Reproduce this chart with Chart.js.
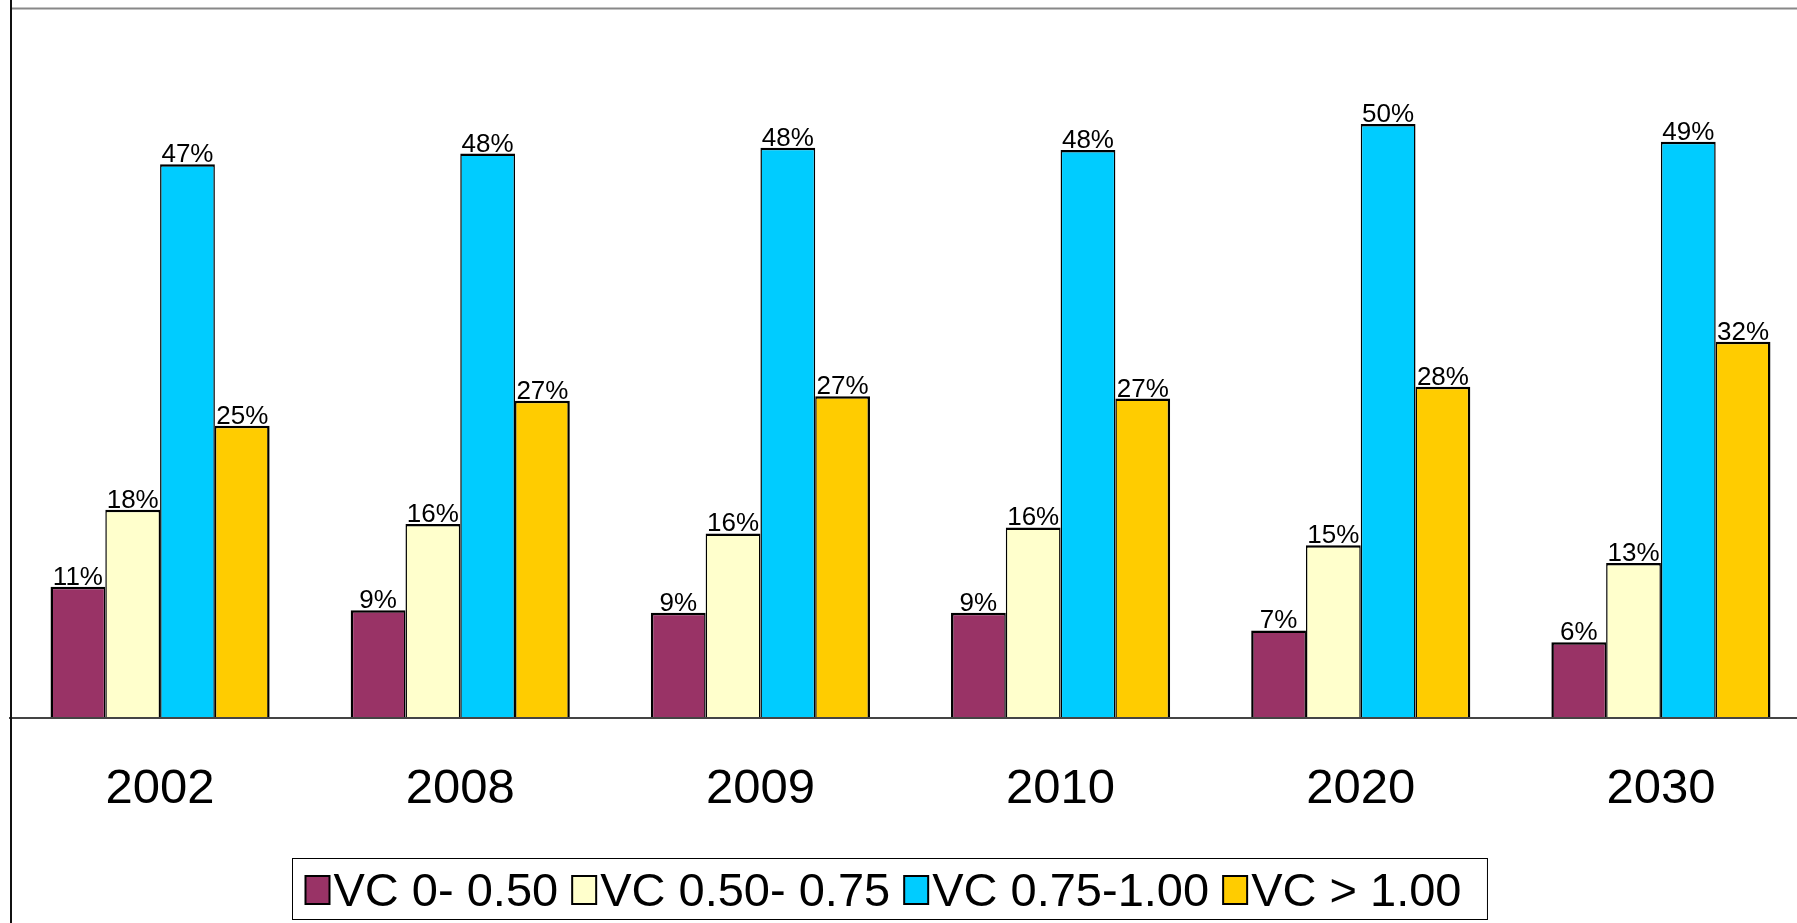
<!DOCTYPE html>
<html>
<head>
<meta charset="utf-8">
<title>VC by year</title>
<script src="https://cdn.jsdelivr.net/npm/chart.js@4.4.0/dist/chart.umd.min.js"></script>
<style>
    html, body { margin: 0; padding: 0; background: #fff; overflow: hidden; }
    #wrap { width: 1811px; height: 923px; }
</style>
</head>
<body>
<div id="wrap"><canvas id="myChart" width="1811" height="923"></canvas></div>
<script>
// data (percent)
const years = ['2002', '2008', '2009', '2010', '2020', '2030'];
const seriesNames = ['VC 0- 0.50', 'VC 0.50- 0.75', 'VC 0.75-1.00', 'VC > 1.00'];
const vcLow = [11.1, 9.1, 8.9, 8.9, 7.4, 6.4];
const vcMid = [17.6, 16.4, 15.6, 16.1, 14.6, 13.1];
const vcHigh = [46.8, 47.7, 48.2, 48.0, 50.2, 48.7];
const vcOver = [24.7, 26.8, 27.2, 27.0, 28.0, 31.8];
const seriesColors = ['#993366', '#FFFFCC', '#00CCFF', '#FFCC00'];
const yMax = 60;

const fontFamily = '"Liberation Sans", Arial, sans-serif';
const seriesValues = [vcLow, vcMid, vcHigh, vcOver];

// bars touch each other, so share the inner borders
let datasets = [];
for (let i = 0; i < seriesValues.length; i++) {
    datasets.push({
        label: seriesNames[i],
        data: seriesValues[i],
        backgroundColor: seriesColors[i],
        borderColor: '#000',
        borderWidth: {
            top: 2.5,
            bottom: 0,
            left: i === 0 ? 2.5 : 1.5,
            right: i === seriesValues.length - 1 ? 2.5 : 1.5
        },
        borderSkipped: 'start',
        categoryPercentage: 0.73,
        barPercentage: 1.0
    });
}

// percent labels on top of each bar
const barLabels = {
    id: 'barLabels',
    afterDatasetsDraw(chart) {
        const ctx = chart.ctx;
        ctx.save();
        ctx.font = '26px ' + fontFamily;
        ctx.fillStyle = '#000';
        ctx.textAlign = 'center';
        ctx.textBaseline = 'alphabetic';
        chart.data.datasets.forEach(function (ds, i) {
            chart.getDatasetMeta(i).data.forEach(function (bar, j) {
                ctx.fillText(Math.round(ds.data[j]) + '%', bar.x, bar.y - 2);
            });
        });
        ctx.restore();
    }
};

// frame lines: left edge, top of plot, base line
const frameLines = {
    id: 'frameLines',
    afterDraw(chart) {
        const ctx = chart.ctx;
        const area = chart.chartArea;
        ctx.save();
        ctx.lineWidth = 2;
        ctx.strokeStyle = '#888';
        ctx.beginPath();
        ctx.moveTo(area.left, area.top + 0.5);
        ctx.lineTo(chart.width, area.top + 0.5);
        ctx.stroke();

        ctx.strokeStyle = '#444';
        ctx.beginPath();
        ctx.moveTo(area.left - 1, area.bottom);
        ctx.lineTo(chart.width, area.bottom);
        ctx.stroke();

        ctx.strokeStyle = '#111';
        ctx.beginPath();
        ctx.moveTo(area.left + 1, 0);
        ctx.lineTo(area.left + 1, chart.height);
        ctx.stroke();
        ctx.restore();
    }
};

// boxed legend under the axis labels
const boxedLegend = {
    id: 'boxedLegend',
    afterDraw(chart) {
        const ctx = chart.ctx;
        const legendCenterX = 889;
        const boxTop = 858.5;
        const boxHeight = 61;
        const sqW = 24, sqH = 28, gapText = 4, gapItem = 14, padLeft = 13, padRight = 26;
        ctx.save();
        ctx.font = '47px ' + fontFamily;
        let widths = chart.data.datasets.map(ds => ctx.measureText(ds.label).width);
        let content = 0;
        widths.forEach(w => content += sqW + gapText + w);
        content += gapItem * (widths.length - 1);
        let boxW = content + padLeft + padRight;
        let boxLeft = Math.round(legendCenterX - boxW / 2) + 0.5;

        ctx.fillStyle = '#fff';
        ctx.fillRect(boxLeft, boxTop, boxW, boxHeight);
        ctx.strokeStyle = '#000';
        ctx.lineWidth = 1;
        ctx.strokeRect(boxLeft, boxTop, boxW, boxHeight);

        let x = boxLeft + padLeft;
        chart.data.datasets.forEach(function (ds, i) {
            ctx.fillStyle = ds.backgroundColor;
            ctx.fillRect(x, 876, sqW, sqH);
            ctx.lineWidth = 2;
            ctx.strokeStyle = '#000';
            ctx.strokeRect(x, 876, sqW, sqH);
            x += sqW + gapText;
            ctx.fillStyle = '#000';
            ctx.textAlign = 'left';
            ctx.textBaseline = 'alphabetic';
            ctx.fillText(ds.label, x, 906);
            x += widths[i] + gapItem;
        });
        ctx.restore();
    }
};

const ctx = document.getElementById('myChart').getContext('2d');
const myChart = new Chart(ctx, {
    type: 'bar',
    data: {
        labels: years,
        datasets: datasets
    },
    options: {
        responsive: false,
        animation: false,
        devicePixelRatio: 1,
        layout: {
            padding: { left: 10, top: 8, right: 0, bottom: 105 }
        },
        plugins: {
            legend: { display: false },
            tooltip: { enabled: false }
        },
        scales: {
            x: {
                grid: { display: false, drawTicks: false },
                border: { display: false },
                ticks: {
                    color: '#000',
                    padding: 42,
                    font: { family: fontFamily, size: 49 }
                },
                afterFit: function (scale) {
                    scale.height = 100;
                }
            },
            y: {
                display: false,
                min: 0,
                max: yMax
            }
        }
    },
    plugins: [barLabels, frameLines, boxedLegend]
});
</script>
</body>
</html>
